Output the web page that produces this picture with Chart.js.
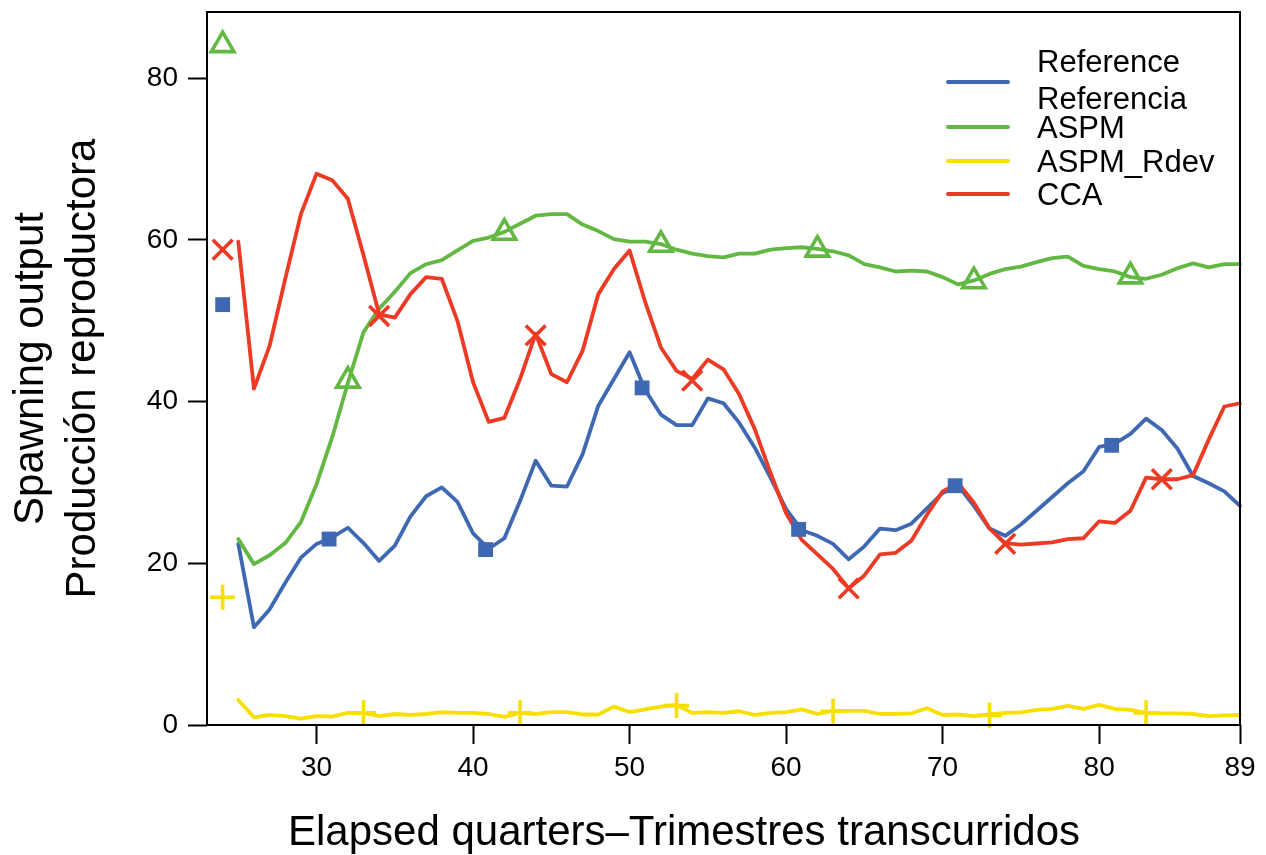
<!DOCTYPE html>
<html><head><meta charset="utf-8">
<script src="https://cdn.jsdelivr.net/npm/chart.js@4.4.1/dist/chart.umd.min.js"></script>
<style>html,body{margin:0;padding:0;background:#fff;}#wrap{width:1266px;height:855px;}</style>
</head><body><div id="wrap"><canvas id="c" width="1266" height="855"></canvas></div>
<script>
// ---- data ----
const quarters = [25,26,27,28,29,30,31,32,33,34,35,36,37,38,39,40,41,42,43,44,45,46,47,48,49,50,51,52,53,54,55,56,57,58,59,60,61,62,63,64,65,66,67,68,69,70,71,72,73,74,75,76,77,78,79,80,81,82,83,84,85,86,87,88,89];
const reference = [22.4,12.1,14.3,17.6,20.7,22.4,23.2,24.4,22.5,20.3,22.2,25.8,28.3,29.4,27.6,23.7,21.8,23.1,27.7,32.7,29.6,29.5,33.5,39.5,42.8,46.1,41.4,38.4,37.1,37.1,40.4,39.8,37.4,34.3,30.6,26.7,24.1,23.4,22.4,20.5,22.1,24.3,24.1,24.9,26.8,28.7,29.6,27.1,24.3,23.4,24.8,26.5,28.2,29.9,31.4,34.4,34.8,36.0,37.9,36.5,34.2,30.8,29.9,28.9,27.1];
const aspm = [23.0,19.9,21.0,22.5,25.1,29.8,35.6,42.3,48.6,51.5,53.6,55.9,57.0,57.5,58.7,59.9,60.3,61.0,62.0,63.0,63.2,63.2,61.9,61.1,60.1,59.8,59.8,59.5,58.8,58.3,58.0,57.85,58.3,58.3,58.8,59.0,59.1,58.9,58.6,58.1,57.0,56.6,56.1,56.2,56.1,55.4,54.5,55.0,55.8,56.4,56.7,57.25,57.75,57.95,56.8,56.4,56.1,55.4,55.2,55.7,56.5,57.1,56.6,57.0,57.0];
const aspmRdev = [3.1,0.95,1.24,1.1,0.8,1.1,1.03,1.5,1.5,1.1,1.36,1.24,1.36,1.6,1.5,1.5,1.36,1.0,1.5,1.36,1.6,1.6,1.3,1.3,2.27,1.6,1.94,2.27,2.48,1.5,1.6,1.5,1.7,1.24,1.5,1.6,1.94,1.36,1.74,1.74,1.74,1.36,1.36,1.45,2.07,1.24,1.3,1.1,1.3,1.5,1.55,1.86,2.0,2.36,2.0,2.5,2.0,1.86,1.5,1.45,1.45,1.36,1.1,1.2,1.24];
const cca = [59.8,41.6,46.9,55.2,63.2,68.2,67.4,65.1,58.1,50.8,50.4,53.3,55.4,55.2,50.0,42.4,37.5,38.0,42.8,48.4,43.4,42.4,46.3,53.3,56.4,58.7,52.3,46.7,43.8,42.8,45.2,44.0,40.9,36.6,31.2,26.2,22.9,21.1,19.3,16.9,18.5,21.1,21.3,22.8,26.0,28.9,29.9,27.5,24.3,22.5,22.3,22.45,22.6,23.0,23.1,25.2,25.0,26.5,30.6,30.4,30.4,30.9,35.3,39.4,39.8];

// marker positions
const refMarkX = [24,30.8,40.8,50.8,60.8,70.8,80.8];
const refMarkY = [52.0,23.0,21.7,41.7,24.2,29.6,34.6];
const aspmMarkX = [24,32,42,52,62,72,82];
const aspmMarkY = [84.1,42.6,60.9,59.4,58.8,54.9,55.5];
const rdevMarkX = [24,33,43,53,63,73,83];
const rdevMarkY = [15.8,1.5,1.5,2.4,1.7,1.2,1.5];
const ccaMarkX = [24,34,44,54,64,74,84];
const ccaMarkY = [58.8,50.6,48.2,42.6,16.9,22.4,30.4];

const xTickValues = [30,40,50,60,70,80,89];
const yTickValues = [0,20,40,60,80];
const legendLabels = [["Reference","Referencia"],"ASPM","ASPM_Rdev","CCA"];
const xTitle = "Elapsed quarters–Trimestres transcurridos";
const yTitle = ["Spawning output","Producción reproductora"];

// ---- styles ----
const COL = {ref:"#3f68b3", aspm:"#62b843", rdev:"#f7e000", cca:"#ec3a24"};
const FONT = "'Liberation Sans', Arial, Helvetica, sans-serif";

const pts = (xs, ys) => xs.map((x, i) => ({x, y: ys[i]}));
const line = (label, vals, color) => ({
  type: 'line', label, data: pts(quarters, vals), borderColor: color, borderWidth: 3.8,
  pointRadius: 0, tension: 0, fill: false, borderCapStyle: 'round', borderJoinStyle: 'round', clip: false
});
const marks = (xs, ys, style, color, r, filled) => ({
  type: 'scatter', label: '_m', data: pts(xs, ys), pointStyle: style, pointRadius: r,
  borderColor: color, backgroundColor: filled ? color : 'rgba(0,0,0,0)', borderWidth: filled ? 0 : 3.6,
  showLine: false, clip: false
});

const overlayPlugin = {
  id: 'overlay',
  afterDraw(chart) {
    const ctx = chart.ctx;
    const colors = [COL.ref, COL.aspm, COL.rdev, COL.cca];
    const lineY = [82, 127, 161, 194];
    const textY = [[63, 100], 129, 163, 196];
    ctx.save();
    // legend
    ctx.lineCap = 'round';
    ctx.lineWidth = 4;
    ctx.font = `31px ${FONT}`;
    ctx.fillStyle = '#000';
    ctx.textBaseline = 'middle';
    ctx.textAlign = 'left';
    legendLabels.forEach((lab, i) => {
      ctx.strokeStyle = colors[i];
      ctx.beginPath(); ctx.moveTo(948, lineY[i]); ctx.lineTo(1008, lineY[i]); ctx.stroke();
      if (Array.isArray(lab)) lab.forEach((t, j) => ctx.fillText(t, 1037, textY[i][j]));
      else ctx.fillText(lab, 1037, textY[i]);
    });
    // x axis title
    ctx.font = `42px ${FONT}`;
    ctx.textAlign = 'center';
    ctx.textBaseline = 'alphabetic';
    ctx.fillText(xTitle, 684, 845);
    // frame around plot
    const a = chart.chartArea;
    ctx.strokeStyle = '#000'; ctx.lineWidth = 2; ctx.lineCap = 'butt';
    ctx.strokeRect(a.left, a.top, a.right - a.left, a.bottom - a.top);
    ctx.restore();
  }
};

new Chart(document.getElementById('c'), {
  data: {
    datasets: [
      marks(ccaMarkX, ccaMarkY, 'crossRot', COL.cca, 14, false),
      marks(rdevMarkX, rdevMarkY, 'cross', COL.rdev, 12.5, false),
      marks(aspmMarkX, aspmMarkY, 'triangle', COL.aspm, 13, false),
      marks(refMarkX, refMarkY, 'rect', COL.ref, 10.5, true),
      line('CCA', cca, COL.cca),
      line('ASPM_Rdev', aspmRdev, COL.rdev),
      line('ASPM', aspm, COL.aspm),
      line('Reference', reference, COL.ref)
    ]
  },
  options: {
    responsive: false, animation: false, devicePixelRatio: 1,
    layout: {autoPadding: false, padding: {left: 0, top: 12, right: 26, bottom: 0}},
    plugins: {legend: {display: false}, tooltip: {enabled: false}},
    scales: {
      x: {
        type: 'linear', min: 23, max: 89,
        afterFit: s => { s.height = 130; s.paddingLeft = 0; s.paddingRight = 0; },
        afterBuildTicks: s => { s.ticks = xTickValues.map(v => ({value: v})); },
        ticks: {autoSkip: false, maxRotation: 0, color: '#000', padding: 7, font: {family: FONT, size: 28}},
        grid: {display: true, drawOnChartArea: false, drawTicks: true, tickLength: 19, tickWidth: 2, tickColor: '#000'},
        border: {display: false}
      },
      y: {
        type: 'linear', min: 0, max: 88.2,
        afterFit: s => { s.width = 207; s.paddingTop = 0; s.paddingBottom = 0; },
        afterBuildTicks: s => { s.ticks = yTickValues.map(v => ({value: v})); },
        ticks: {color: '#000', padding: 10, font: {family: FONT, size: 28}},
        grid: {display: true, drawOnChartArea: false, drawTicks: true, tickLength: 19, tickWidth: 2, tickColor: '#000'},
        border: {display: false},
        title: {display: true, text: yTitle, color: '#000', font: {family: FONT, size: 42, lineHeight: 1.25}, padding: {top: 5, bottom: 0}}
      }
    }
  },
  plugins: [overlayPlugin]
});
</script>
</body></html>
